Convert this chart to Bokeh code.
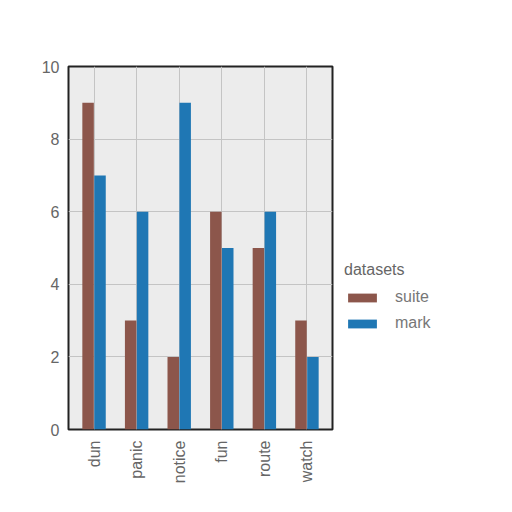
from bokeh.plotting import figure
from bokeh.models import ColumnDataSource, FactorRange, Legend, LegendItem
from bokeh.transform import dodge
from bokeh.embed import file_html
from bokeh.resources import INLINE

categories = ["dun", "panic", "notice", "fun", "route", "watch"]
suite = [9, 3, 2, 6, 5, 3]
mark = [7, 6, 9, 5, 6, 2]
yticks = [0, 2, 4, 6, 8, 10]

source = ColumnDataSource(dict(cat=categories, suite=suite, mark=mark))

p = figure(x_range=FactorRange(*categories, range_padding=0.1, range_padding_units="absolute"),
           y_range=(0, 10),
           frame_width=264, frame_height=363, output_backend="svg", toolbar_location=None,
           min_border_left=68, min_border_top=66, min_border_bottom=62, min_border_right=10)

r1 = p.vbar(x=dodge("cat", -0.14, range=p.x_range), top="suite", width=0.27,
            source=source, color="#8c564b", line_color=None)
r2 = p.vbar(x=dodge("cat", 0.14, range=p.x_range), top="mark", width=0.27,
            source=source, color="#1f77b4", line_color=None)

p.background_fill_color = "#ececec"
p.border_fill_color = "white"
p.outline_line_color = "#222222"
p.outline_line_width = 2
p.grid.grid_line_color = "#c4c4c4"
p.grid.grid_line_width = 1

p.yaxis.ticker = yticks
p.axis.axis_line_color = None
p.axis.major_tick_line_color = None
p.axis.minor_tick_line_color = None
p.axis.major_label_text_font = "Liberation Sans"
p.axis.major_label_text_font_size = "16px"
p.axis.major_label_text_color = "#666666"
p.xaxis.major_label_orientation = 1.5708
p.xaxis.major_label_standoff = 5
p.yaxis.major_label_standoff = 3

legend = Legend(items=[LegendItem(label="suite", renderers=[r1]),
                       LegendItem(label="mark", renderers=[r2])],
                title="datasets", location=(12, 97))
legend.border_line_color = None
legend.background_fill_alpha = 0
legend.title_text_font = "Liberation Sans"
legend.title_text_font_size = "16px"
legend.title_text_font_style = "normal"
legend.title_text_color = "#666666"
legend.title_standoff = 9
legend.label_text_font = "Liberation Sans"
legend.label_text_font_size = "16px"
legend.label_text_color = "#777777"
legend.glyph_width = 36
legend.glyph_height = 11
legend.spacing = 8
legend.label_standoff = 15
p.add_layout(legend, "right")

open("out.html", "w").write(file_html(p, INLINE))
